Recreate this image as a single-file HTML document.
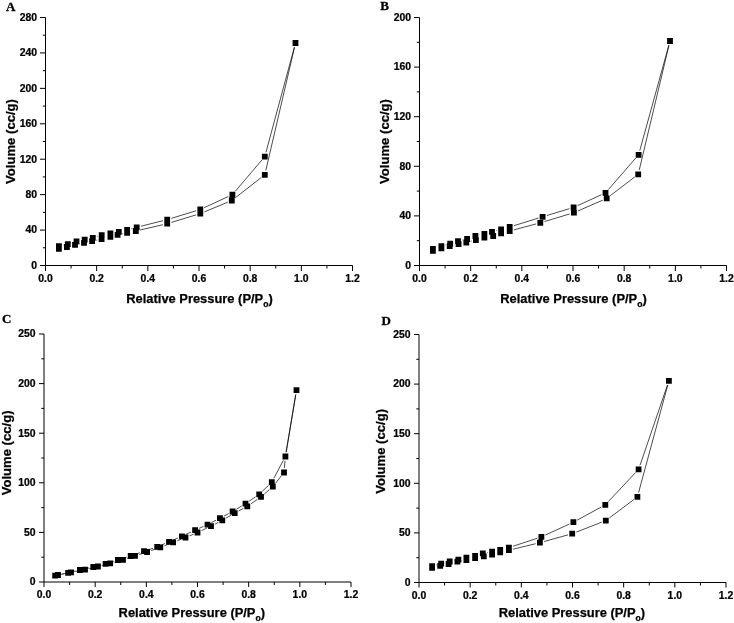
<!DOCTYPE html>
<html><head><meta charset="utf-8"><title>Isotherms</title>
<style>
html,body{margin:0;padding:0;background:#fff}
svg{display:block}
.t{font:bold 10.4px "Liberation Sans",Arial,sans-serif;fill:#000;stroke:#000;stroke-width:.25px}
.l{font:bold 12.9px "Liberation Sans",Arial,sans-serif;fill:#000;stroke:#000;stroke-width:.25px}
.s{font-size:8.6px}
.yl{font-size:13.1px}
.p{font:bold 13px "Liberation Serif","Times New Roman",serif;fill:#000;stroke:#000;stroke-width:.3px}
</style></head><body>
<svg width="734" height="623" viewBox="0 0 734 623">
<rect width="734" height="623" fill="#fff"/>
<path d="M45.5 17.5V265.5H352.5" fill="none" stroke="#000" stroke-width="1"/>
<path d="M45.5 265.5v5.5M71.08 265.5v3M96.67 265.5v5.5M122.25 265.5v3M147.83 265.5v5.5M173.42 265.5v3M199 265.5v5.5M224.58 265.5v3M250.17 265.5v5.5M275.75 265.5v3M301.33 265.5v5.5M326.92 265.5v3M352.5 265.5v5.5M45.5 265.5h-5.5M45.5 230.07h-5.5M45.5 194.64h-5.5M45.5 159.21h-5.5M45.5 123.79h-5.5M45.5 88.36h-5.5M45.5 52.93h-5.5M45.5 17.5h-5.5M45.5 247.79h-2.7M45.5 212.36h-2.7M45.5 176.93h-2.7M45.5 141.5h-2.7M45.5 106.07h-2.7M45.5 70.64h-2.7M45.5 35.21h-2.7" fill="none" stroke="#000" stroke-width="1"/>
<text transform="translate(45.5 281.5) scale(1 .98)" text-anchor="middle" class="t">0.0</text>
<text transform="translate(96.67 281.5) scale(1 .98)" text-anchor="middle" class="t">0.2</text>
<text transform="translate(147.83 281.5) scale(1 .98)" text-anchor="middle" class="t">0.4</text>
<text transform="translate(199 281.5) scale(1 .98)" text-anchor="middle" class="t">0.6</text>
<text transform="translate(250.17 281.5) scale(1 .98)" text-anchor="middle" class="t">0.8</text>
<text transform="translate(301.33 281.5) scale(1 .98)" text-anchor="middle" class="t">1.0</text>
<text transform="translate(352.5 281.5) scale(1 .98)" text-anchor="middle" class="t">1.2</text>
<text transform="translate(37 268.8) scale(1 .98)" text-anchor="end" class="t">0</text>
<text transform="translate(37 233.37) scale(1 .98)" text-anchor="end" class="t">40</text>
<text transform="translate(37 197.94) scale(1 .98)" text-anchor="end" class="t">80</text>
<text transform="translate(37 162.51) scale(1 .98)" text-anchor="end" class="t">120</text>
<text transform="translate(37 127.09) scale(1 .98)" text-anchor="end" class="t">160</text>
<text transform="translate(37 91.66) scale(1 .98)" text-anchor="end" class="t">200</text>
<text transform="translate(37 56.23) scale(1 .98)" text-anchor="end" class="t">240</text>
<text transform="translate(37 20.8) scale(1 .98)" text-anchor="end" class="t">280</text>
<text transform="translate(14.5 141.5) rotate(-90)" text-anchor="middle" class="l yl">Volume (cc/g)</text>
<text x="199.5" y="302.5" text-anchor="middle" class="l">Relative Pressure (P/P<tspan class="s" dy="4.1">o</tspan><tspan dy="-4.1">)</tspan></text>
<text x="5.9" y="11" class="p">A</text>
<path d="M63.18 245.19L63.52 245.11M71.99 242.75L72.31 242.65M97.02 236.57L97.48 236.43M131.36 228.69L132.44 228.41M140.97 226.22L162.93 220.68M171.41 218.32L196.09 210.78M204.29 207.65L228.41 196.45M235.25 191.25L261.95 159.95M265.95 152.35L294.35 47.25M79.3 243.95L79.7 243.85M96.4 240.25L97.3 240.05M121.91 233.89L122.79 233.71M140.09 230L162.91 224.7M171.41 222.42L196.09 214.88M204.36 211.91L227.74 202.19M235.27 197.8L261.33 177.5M265.8 170.51L294.5 47.29" fill="none" stroke="#000" stroke-width="0.7"/>
<path d="M56 243.3h5.8v5.8h-5.8zM64.9 241.2h5.8v5.8h-5.8zM73.6 238.4h5.8v5.8h-5.8zM81.8 236.8h5.8v5.8h-5.8zM89.9 234.9h5.8v5.8h-5.8zM98.8 232.3h5.8v5.8h-5.8zM107.5 230.6h5.8v5.8h-5.8zM115.9 229h5.8v5.8h-5.8zM124.2 226.9h5.8v5.8h-5.8zM133.8 224.4h5.8v5.8h-5.8zM164.3 216.7h5.8v5.8h-5.8zM197.4 206.6h5.8v5.8h-5.8zM229.5 191.7h5.8v5.8h-5.8zM261.9 153.7h5.8v5.8h-5.8zM292.6 40.1h5.8v5.8h-5.8zM56 246h5.8v5.8h-5.8zM64 244.1h5.8v5.8h-5.8zM72.1 242h5.8v5.8h-5.8zM81.1 240h5.8v5.8h-5.8zM89.2 238.3h5.8v5.8h-5.8zM98.7 236.2h5.8v5.8h-5.8zM107.5 234h5.8v5.8h-5.8zM114.7 231.9h5.8v5.8h-5.8zM124.2 229.9h5.8v5.8h-5.8zM132.9 228.1h5.8v5.8h-5.8zM164.3 220.8h5.8v5.8h-5.8zM197.4 210.7h5.8v5.8h-5.8zM228.9 197.6h5.8v5.8h-5.8zM261.9 171.9h5.8v5.8h-5.8zM292.6 40.1h5.8v5.8h-5.8z" fill="#000"/>
<path d="M419.5 17.5V265.5H726.5" fill="none" stroke="#000" stroke-width="1"/>
<path d="M419.5 265.5v5.5M445.08 265.5v3M470.67 265.5v5.5M496.25 265.5v3M521.83 265.5v5.5M547.42 265.5v3M573 265.5v5.5M598.58 265.5v3M624.17 265.5v5.5M649.75 265.5v3M675.33 265.5v5.5M700.92 265.5v3M726.5 265.5v5.5M419.5 265.5h-5.5M419.5 215.9h-5.5M419.5 166.3h-5.5M419.5 116.7h-5.5M419.5 67.1h-5.5M419.5 17.5h-5.5M419.5 240.7h-2.7M419.5 191.1h-2.7M419.5 141.5h-2.7M419.5 91.9h-2.7M419.5 42.3h-2.7" fill="none" stroke="#000" stroke-width="1"/>
<text transform="translate(419.5 281.5) scale(1 .98)" text-anchor="middle" class="t">0.0</text>
<text transform="translate(470.67 281.5) scale(1 .98)" text-anchor="middle" class="t">0.2</text>
<text transform="translate(521.83 281.5) scale(1 .98)" text-anchor="middle" class="t">0.4</text>
<text transform="translate(573 281.5) scale(1 .98)" text-anchor="middle" class="t">0.6</text>
<text transform="translate(624.17 281.5) scale(1 .98)" text-anchor="middle" class="t">0.8</text>
<text transform="translate(675.33 281.5) scale(1 .98)" text-anchor="middle" class="t">1.0</text>
<text transform="translate(726.5 281.5) scale(1 .98)" text-anchor="middle" class="t">1.2</text>
<text transform="translate(411 268.8) scale(1 .98)" text-anchor="end" class="t">0</text>
<text transform="translate(411 219.2) scale(1 .98)" text-anchor="end" class="t">40</text>
<text transform="translate(411 169.6) scale(1 .98)" text-anchor="end" class="t">80</text>
<text transform="translate(411 120) scale(1 .98)" text-anchor="end" class="t">120</text>
<text transform="translate(411 70.4) scale(1 .98)" text-anchor="end" class="t">160</text>
<text transform="translate(411 20.8) scale(1 .98)" text-anchor="end" class="t">200</text>
<text transform="translate(388.5 141.5) rotate(-90)" text-anchor="middle" class="l yl">Volume (cc/g)</text>
<text x="573.5" y="302.6" text-anchor="middle" class="l">Relative Pressure (P/P<tspan class="s" dy="4.1">o</tspan><tspan dy="-4.1">)</tspan></text>
<text x="380.2" y="9.6" class="p">B</text>
<path d="M445.63 245L445.97 244.9M462.29 240.11L462.81 239.99M479.68 235L480.12 234.9M496.27 230.72L496.83 230.58M513.9 225.7L538.4 218.1M546.81 215.52L569.39 208.68M577.61 205.58L601.49 194.72M608.39 189.58L635.71 158.12M639.77 150.56L668.83 45.24M453.98 245.19L454.32 245.11M470.56 241.39L471.64 241.11M513.95 229.86L536.05 223.94M544.51 221.53L569.69 213.97M577.93 210.94L602.67 200.16M610.19 195.73L634.71 176.97M639.22 170.02L668.98 45.28" fill="none" stroke="#000" stroke-width="0.7"/>
<path d="M430 246.1h5.8v5.8h-5.8zM438.5 243.3h5.8v5.8h-5.8zM447.3 240.8h5.8v5.8h-5.8zM455.1 238.2h5.8v5.8h-5.8zM464.2 236.1h5.8v5.8h-5.8zM472.5 233.1h5.8v5.8h-5.8zM481.5 231h5.8v5.8h-5.8zM489.1 228.9h5.8v5.8h-5.8zM498.2 226.6h5.8v5.8h-5.8zM506.8 224.1h5.8v5.8h-5.8zM539.7 213.9h5.8v5.8h-5.8zM570.7 204.5h5.8v5.8h-5.8zM602.6 190h5.8v5.8h-5.8zM635.7 151.9h5.8v5.8h-5.8zM667.1 38.1h5.8v5.8h-5.8zM430 247.9h5.8v5.8h-5.8zM438.5 245.4h5.8v5.8h-5.8zM446.8 243.3h5.8v5.8h-5.8zM455.7 241.2h5.8v5.8h-5.8zM463.4 239.6h5.8v5.8h-5.8zM473 237.1h5.8v5.8h-5.8zM481.5 234.8h5.8v5.8h-5.8zM490.3 233.1h5.8v5.8h-5.8zM498.2 230.5h5.8v5.8h-5.8zM506.8 228.1h5.8v5.8h-5.8zM537.4 219.9h5.8v5.8h-5.8zM571 209.8h5.8v5.8h-5.8zM603.8 195.5h5.8v5.8h-5.8zM635.3 171.4h5.8v5.8h-5.8zM667.1 38.1h5.8v5.8h-5.8z" fill="#000"/>
<path d="M44 334V582H351" fill="none" stroke="#000" stroke-width="1"/>
<path d="M44 582v5M69.58 582v3M95.17 582v5M120.75 582v3M146.33 582v5M171.92 582v3M197.5 582v5M223.08 582v3M248.67 582v5M274.25 582v3M299.83 582v5M325.42 582v3M351 582v5M44 582h-5M44 532.4h-5M44 482.8h-5M44 433.2h-5M44 383.6h-5M44 334h-5M44 557.2h-2.7M44 507.6h-2.7M44 458h-2.7M44 408.4h-2.7M44 358.8h-2.7" fill="none" stroke="#000" stroke-width="1"/>
<text transform="translate(44 598) scale(1 .98)" text-anchor="middle" class="t">0.0</text>
<text transform="translate(95.17 598) scale(1 .98)" text-anchor="middle" class="t">0.2</text>
<text transform="translate(146.33 598) scale(1 .98)" text-anchor="middle" class="t">0.4</text>
<text transform="translate(197.5 598) scale(1 .98)" text-anchor="middle" class="t">0.6</text>
<text transform="translate(248.67 598) scale(1 .98)" text-anchor="middle" class="t">0.8</text>
<text transform="translate(299.83 598) scale(1 .98)" text-anchor="middle" class="t">1.0</text>
<text transform="translate(351 598) scale(1 .98)" text-anchor="middle" class="t">1.2</text>
<text transform="translate(35.5 585.3) scale(1 .98)" text-anchor="end" class="t">0</text>
<text transform="translate(35.5 535.7) scale(1 .98)" text-anchor="end" class="t">50</text>
<text transform="translate(35.5 486.1) scale(1 .98)" text-anchor="end" class="t">100</text>
<text transform="translate(35.5 436.5) scale(1 .98)" text-anchor="end" class="t">150</text>
<text transform="translate(35.5 386.9) scale(1 .98)" text-anchor="end" class="t">200</text>
<text transform="translate(35.5 337.3) scale(1 .98)" text-anchor="end" class="t">250</text>
<text transform="translate(10.5 452.9) rotate(-90)" text-anchor="middle" class="l yl">Volume (cc/g)</text>
<text x="191.8" y="616.7" text-anchor="middle" class="l">Relative Pressure (P/P<tspan class="s" dy="4.1">o</tspan><tspan dy="-4.1">)</tspan></text>
<text x="2.1" y="323.4" class="p">C</text>
<path d="M59.4 574.67L63.8 573.73M72.38 571.78L75.62 571.02M84.19 569.04L89.01 567.96M97.57 565.92L101.33 564.98M109.79 562.57L113.71 561.33M122.1 558.69L126.5 557.31M134.84 554.51L139.86 552.69M148.18 549.84L153.02 548.26M161.24 545.15L164.96 543.55M173.05 540.07L177.85 538.03M185.88 534.43L191.12 531.97M199.13 528.34L203.47 526.46M211.4 522.66L216 520.24M223.79 516.15L228.71 513.55M236.37 509.22L241.73 505.98M249.13 501.21L255.57 496.79M262.37 491.25L268.63 485.25M273.86 478.31L283.34 460.39M286.13 452.16L295.77 394.54M62.31 574.11L66.69 573.19M75.32 571.47L80.68 570.43M89.28 568.57L93.62 567.53M102.17 565.42L105.93 564.48M114.44 562.24L118.76 561.06M127.17 558.51L130.83 557.29M139.19 554.55L142.91 553.35M151.25 550.55L156.15 548.85M164.4 545.8L169 544M177.19 540.78L181.41 539.12M189.56 535.81L193.44 534.19M201.49 530.64L207.01 528.06M214.9 524.16L218.4 522.34M226.11 518.09L230.89 515.31M238.57 511.01L243.43 508.39M250.93 503.81L257.37 499.39M264.33 494.02L269.47 489.58M275.52 483.25L281.28 475.95M284.38 468.12L285.02 460.88M286.13 452.16L295.77 394.54" fill="none" stroke="#000" stroke-width="0.7"/>
<path d="M52.2 572.7h5.8v5.8h-5.8zM65.2 569.9h5.8v5.8h-5.8zM77 567.1h5.8v5.8h-5.8zM90.4 564.1h5.8v5.8h-5.8zM102.7 561h5.8v5.8h-5.8zM115 557.1h5.8v5.8h-5.8zM127.8 553.1h5.8v5.8h-5.8zM141.1 548.3h5.8v5.8h-5.8zM154.3 544h5.8v5.8h-5.8zM166.1 538.9h5.8v5.8h-5.8zM179 533.4h5.8v5.8h-5.8zM192.2 527.2h5.8v5.8h-5.8zM204.6 521.8h5.8v5.8h-5.8zM217 515.3h5.8v5.8h-5.8zM229.7 508.6h5.8v5.8h-5.8zM242.6 500.8h5.8v5.8h-5.8zM256.3 491.4h5.8v5.8h-5.8zM268.9 479.3h5.8v5.8h-5.8zM282.5 453.6h5.8v5.8h-5.8zM293.6 387.3h5.8v5.8h-5.8zM55.1 572.1h5.8v5.8h-5.8zM68.1 569.4h5.8v5.8h-5.8zM82.1 566.7h5.8v5.8h-5.8zM95 563.6h5.8v5.8h-5.8zM107.3 560.5h5.8v5.8h-5.8zM120.1 557h5.8v5.8h-5.8zM132.1 553h5.8v5.8h-5.8zM144.2 549.1h5.8v5.8h-5.8zM157.4 544.5h5.8v5.8h-5.8zM170.2 539.5h5.8v5.8h-5.8zM182.6 534.6h5.8v5.8h-5.8zM194.6 529.6h5.8v5.8h-5.8zM208.1 523.3h5.8v5.8h-5.8zM219.4 517.4h5.8v5.8h-5.8zM231.8 510.2h5.8v5.8h-5.8zM244.4 503.4h5.8v5.8h-5.8zM258.1 494h5.8v5.8h-5.8zM269.9 483.8h5.8v5.8h-5.8zM281.1 469.6h5.8v5.8h-5.8zM282.5 453.6h5.8v5.8h-5.8zM293.6 387.3h5.8v5.8h-5.8z" fill="#000"/>
<path d="M419 334.5V582.5H726" fill="none" stroke="#000" stroke-width="1"/>
<path d="M419 582.5v5M444.58 582.5v3M470.17 582.5v5M495.75 582.5v3M521.33 582.5v5M546.92 582.5v3M572.5 582.5v5M598.08 582.5v3M623.67 582.5v5M649.25 582.5v3M674.83 582.5v5M700.42 582.5v3M726 582.5v5M419 582.5h-5M419 532.9h-5M419 483.3h-5M419 433.7h-5M419 384.1h-5M419 334.5h-5M419 557.7h-2.7M419 508.1h-2.7M419 458.5h-2.7M419 408.9h-2.7M419 359.3h-2.7" fill="none" stroke="#000" stroke-width="1"/>
<text transform="translate(419 598.5) scale(1 .98)" text-anchor="middle" class="t">0.0</text>
<text transform="translate(470.17 598.5) scale(1 .98)" text-anchor="middle" class="t">0.2</text>
<text transform="translate(521.33 598.5) scale(1 .98)" text-anchor="middle" class="t">0.4</text>
<text transform="translate(572.5 598.5) scale(1 .98)" text-anchor="middle" class="t">0.6</text>
<text transform="translate(623.67 598.5) scale(1 .98)" text-anchor="middle" class="t">0.8</text>
<text transform="translate(674.83 598.5) scale(1 .98)" text-anchor="middle" class="t">1.0</text>
<text transform="translate(726 598.5) scale(1 .98)" text-anchor="middle" class="t">1.2</text>
<text transform="translate(410.5 585.8) scale(1 .98)" text-anchor="end" class="t">0</text>
<text transform="translate(410.5 536.2) scale(1 .98)" text-anchor="end" class="t">50</text>
<text transform="translate(410.5 486.6) scale(1 .98)" text-anchor="end" class="t">100</text>
<text transform="translate(410.5 437) scale(1 .98)" text-anchor="end" class="t">150</text>
<text transform="translate(410.5 387.4) scale(1 .98)" text-anchor="end" class="t">200</text>
<text transform="translate(410.5 337.8) scale(1 .98)" text-anchor="end" class="t">250</text>
<text transform="translate(384.6 451.4) rotate(-90)" text-anchor="middle" class="l yl">Volume (cc/g)</text>
<text x="571.9" y="617" text-anchor="middle" class="l">Relative Pressure (P/P<tspan class="s" dy="4.1">o</tspan><tspan dy="-4.1">)</tspan></text>
<text x="381.5" y="324.5" class="p">D</text>
<path d="M436.35 564.98L436.95 564.82M487.14 552.55L487.76 552.45M513.08 546.22L537.22 538.28M545.4 535.06L569.4 524.04M577.26 520.09L601.44 506.91M608.31 501.6L635.59 472.6M640.02 465.24L667.48 384.96M461.72 560.88L462.08 560.82M513.18 549.17L535.62 543.73M544.14 541.52L567.96 534.88M576.3 532.1L601.7 522.2M609.32 517.96L633.88 499.54M638.55 492.65L667.75 385.05" fill="none" stroke="#000" stroke-width="0.7"/>
<path d="M429.2 563.2h5.8v5.8h-5.8zM438.3 560.8h5.8v5.8h-5.8zM446.8 558.6h5.8v5.8h-5.8zM455.5 556.7h5.8v5.8h-5.8zM463.5 554.7h5.8v5.8h-5.8zM472.2 552.9h5.8v5.8h-5.8zM479.9 550.4h5.8v5.8h-5.8zM489.2 548.8h5.8v5.8h-5.8zM497.3 546.9h5.8v5.8h-5.8zM506 544.7h5.8v5.8h-5.8zM538.5 534h5.8v5.8h-5.8zM570.5 519.3h5.8v5.8h-5.8zM602.4 501.9h5.8v5.8h-5.8zM635.7 466.5h5.8v5.8h-5.8zM666 377.9h5.8v5.8h-5.8zM429.2 565h5.8v5.8h-5.8zM437.3 562.9h5.8v5.8h-5.8zM445.7 561.1h5.8v5.8h-5.8zM454.5 558.8h5.8v5.8h-5.8zM463.5 557.1h5.8v5.8h-5.8zM472.2 555.2h5.8v5.8h-5.8zM480.9 553.5h5.8v5.8h-5.8zM489.2 551.6h5.8v5.8h-5.8zM497.3 549.4h5.8v5.8h-5.8zM506 547.3h5.8v5.8h-5.8zM537 539.8h5.8v5.8h-5.8zM569.3 530.8h5.8v5.8h-5.8zM602.9 517.7h5.8v5.8h-5.8zM634.5 494h5.8v5.8h-5.8zM666 377.9h5.8v5.8h-5.8z" fill="#000"/>
</svg>
</body></html>
